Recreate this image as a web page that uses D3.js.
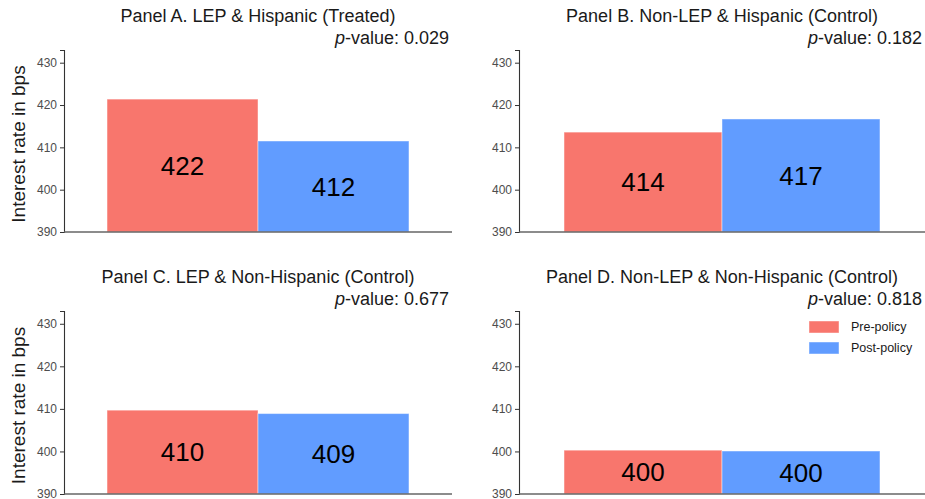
<!DOCTYPE html>
<html>
<head>
<meta charset="utf-8">
<script src="https://cdn.jsdelivr.net/npm/d3@7"></script>
<style>
  body { margin: 0; background: #fff; }
  text { font-family: "Liberation Sans", Arial, sans-serif; }
</style>
</head>
<body>
<div id="chart"></div>
<script>
// data
const panelTitles = [
    "Panel A. LEP & Hispanic (Treated)",
    "Panel B. Non-LEP & Hispanic (Control)",
    "Panel C. LEP & Non-Hispanic (Control)",
    "Panel D. Non-LEP & Non-Hispanic (Control)"
];
const pValues = ["0.029", "0.182", "0.677", "0.818"];
const policies = ["Pre-policy", "Post-policy"];
const preValues = [421.4, 413.6, 409.7, 400.3];
const postValues = [411.5, 416.7, 408.9, 400.1];
const preLabels = ["422", "414", "410", "400"];
const postLabels = ["412", "417", "409", "400"];
const yTicks = [390, 400, 410, 420, 430];

const colors = {"Pre-policy": "#F8766D", "Post-policy": "#619CFF"};

const width = 925, height = 499;

let svg = d3.select("#chart").append("svg")
    .attr("width", width)
    .attr("height", height);

// plot areas for the 4 panels
let panels = [
    {left: 64, right: 452, top: 50, bottom: 232},
    {left: 519, right: 925, top: 50, bottom: 232},
    {left: 64, right: 452, top: 311, bottom: 494},
    {left: 519, right: 925, top: 311, bottom: 494}
];

panels.forEach(function (p, i) {
    let g = svg.append("g");

    let yScale = d3.scaleLinear()
        .domain([390, 433])
        .range([p.bottom, p.top]);

    let xScale = d3.scaleBand()
        .domain(policies)
        .range([p.left, p.right])
        .paddingInner(0)
        .paddingOuter(0.285);

    let rows = [
        {policy: "Pre-policy", value: preValues[i], label: preLabels[i]},
        {policy: "Post-policy", value: postValues[i], label: postLabels[i]}
    ];

    // bars
    g.selectAll("rect.bar")
        .data(rows)
        .enter()
        .append("rect")
        .attr("class", "bar")
        .attr("x", d => xScale(d.policy))
        .attr("width", xScale.bandwidth())
        .attr("y", d => yScale(d.value))
        .attr("height", d => yScale(390) - yScale(d.value))
        .attr("fill", d => colors[d.policy])
        .attr("stroke", "rgba(255,255,255,0.45)")
        .attr("stroke-width", 1);

    // value labels in the middle of each bar
    g.selectAll("text.val")
        .data(rows)
        .enter()
        .append("text")
        .attr("class", "val")
        .attr("x", d => xScale(d.policy) + xScale.bandwidth() / 2)
        .attr("y", d => yScale((d.value + 390) / 2))
        .attr("dy", "0.36em")
        .attr("text-anchor", "middle")
        .attr("font-size", "26px")
        .attr("fill", "#000")
        .text(d => d.label);

    // y axis
    let yAxis = g.append("g")
        .attr("transform", `translate(${p.left},0)`)
        .call(d3.axisLeft(yScale).tickValues(yTicks).tickSize(4).tickPadding(3));
    yAxis.select(".domain").attr("stroke", "#333").attr("stroke-width", 1.1);
    yAxis.selectAll(".tick line").attr("stroke", "#333");
    yAxis.selectAll(".tick text")
        .attr("font-size", "12px")
        .attr("fill", "#4d4d4d")
        .style("font-family", "Liberation Sans, Arial, sans-serif");

    // x axis line (no ticks)
    g.append("line")
        .attr("x1", p.left)
        .attr("x2", p.right)
        .attr("y1", yScale(390))
        .attr("y2", yScale(390))
        .attr("stroke", "#666")
        .attr("stroke-width", 1.3);

    // title
    g.append("text")
        .attr("x", (p.left + p.right) / 2)
        .attr("y", p.top - 28)
        .attr("text-anchor", "middle")
        .attr("font-size", "18px")
        .attr("fill", "#1a1a1a")
        .text(panelTitles[i]);

    // p-value
    let pv = g.append("text")
        .attr("x", p.right - 3)
        .attr("y", p.top - 6)
        .attr("text-anchor", "end")
        .attr("font-size", "18px")
        .attr("fill", "#1a1a1a");
    pv.append("tspan").attr("font-style", "italic").text("p");
    pv.append("tspan").text("-value: " + pValues[i]);

    // y label on left panels
    if (i % 2 === 0) {
        g.append("text")
            .attr("transform", `translate(25,${(p.top + p.bottom) / 2 + 3}) rotate(-90)`)
            .attr("text-anchor", "middle")
            .attr("font-size", "19px")
            .attr("fill", "#1a1a1a")
            .text("Interest rate in bps");
    }
});

// legend in panel D
let legend = svg.append("g")
    .attr("transform", "translate(809,321)");

legend.selectAll("rect")
    .data(policies)
    .enter()
    .append("rect")
    .attr("x", 0)
    .attr("y", (d, i) => i * 21)
    .attr("width", 30)
    .attr("height", 12)
    .attr("fill", d => colors[d])
    .attr("stroke", "rgba(255,255,255,0.45)");

legend.selectAll("text")
    .data(policies)
    .enter()
    .append("text")
    .attr("x", 42)
    .attr("y", (d, i) => i * 21 + 6)
    .attr("dy", "0.35em")
    .attr("font-size", "12.5px")
    .attr("fill", "#1a1a1a")
    .text(d => d);
</script>
</body>
</html>
